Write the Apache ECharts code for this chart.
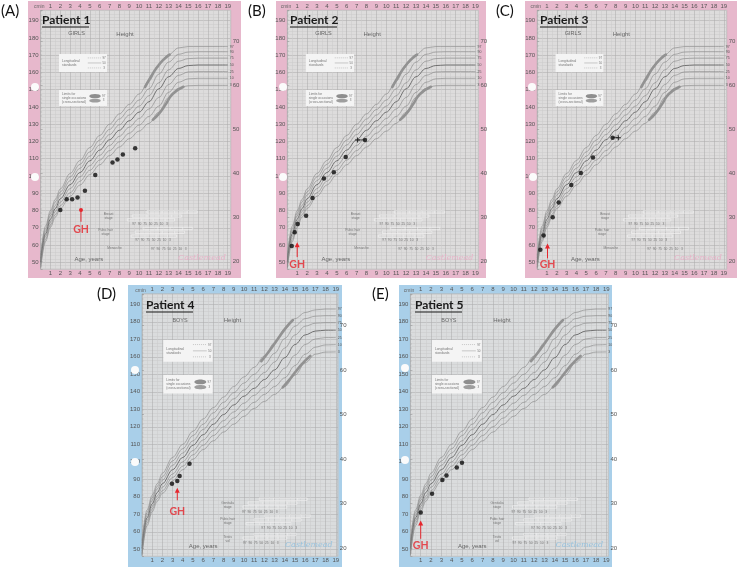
<!DOCTYPE html>
<html>
<head>
<meta charset="utf-8">
<script src="https://cdn.jsdelivr.net/npm/echarts@6/dist/echarts.min.js"></script>
<style>
html, body { margin: 0; padding: 0; background: #fff; }
#chart { width: 739px; height: 568px; }
</style>
</head>
<body>
<div id="chart"></div>
<script>
// reference curves (age in years, height in cm)
const refAges = [0, 0.5, 1, 1.5, 2, 3, 4, 5, 6, 7, 8, 9, 10, 11, 12, 13, 14, 15, 16, 17, 18, 19];

const girls97 = [54, 71, 80, 86.5, 92.5, 101.5, 109, 116.5, 123.5, 130, 136, 141.5, 147.5, 155, 164.5, 170.3, 174.2, 175, 175, 175, 175, 175];
const girls90 = [52.5, 69.5, 78.5, 85, 90.8, 99.5, 106.8, 114, 120.8, 127, 133, 138.5, 144, 150.5, 159, 166, 170.5, 171.8, 172, 172, 172, 172];
const girls75 = [51.3, 68, 77, 83, 89, 97.3, 104.5, 111.5, 118, 124, 129.7, 135.3, 140.5, 146.5, 154, 161.5, 166.5, 168, 168.3, 168.3, 168.3, 168.3];
const girls50 = [50, 66.5, 75, 81.2, 86.8, 95, 102, 108.8, 115, 121, 126.5, 132, 137, 143, 150.5, 157.5, 162.3, 164, 164.3, 164.3, 164.3, 164.3];
const girls25 = [48.7, 65, 73.3, 79.5, 84.8, 92.7, 99.5, 106, 112, 117.7, 123, 128.3, 133.3, 138.8, 145.5, 153, 158.3, 160.3, 160.5, 160.5, 160.5, 160.5];
const girls10 = [47.5, 63.3, 71.7, 77.7, 82.8, 90.3, 97, 103.3, 109.2, 114.7, 119.8, 124.8, 129.5, 134.5, 140.5, 148.5, 154.3, 156.3, 156.6, 156.6, 156.6, 156.6];
const girls3 = [46.5, 62, 70.3, 76.2, 81.2, 88.3, 94.8, 100.8, 106.5, 111.8, 116.8, 121.6, 126, 130.5, 137, 145.5, 150.8, 152.3, 152.5, 152.5, 152.5, 152.5];

const boys97 = [55, 72.5, 81, 87.5, 93.5, 102.5, 110, 117.5, 124.5, 131, 137, 143, 148.5, 154, 160.5, 168, 176, 181.8, 185.3, 186.8, 187.3, 187.3];
const boys90 = [53.5, 71, 79.5, 86, 91.5, 100.5, 107.5, 115, 121.5, 128, 134, 139.5, 145, 150, 155.5, 162, 170.5, 177.5, 181.8, 183.2, 183.5, 183.5];
const boys75 = [52, 69.5, 78, 84.5, 89.5, 98, 105, 112, 118.5, 124.5, 130.5, 136, 141, 146, 151, 157, 165, 172.5, 177.5, 179.2, 179.5, 179.5];
const boys50 = [50.5, 68, 76, 82.5, 87.5, 95.5, 102.5, 109.5, 115.5, 121.5, 127, 132.5, 137.5, 142, 147, 152.5, 159.5, 167, 172.5, 174.7, 175.2, 175.2];
const boys25 = [49, 66.5, 74.5, 80.5, 85.5, 93, 100, 106.5, 112.5, 118, 123.5, 128.5, 133.5, 138, 142.5, 147.5, 153.5, 161, 167, 170.2, 171, 171];
const boys10 = [47.5, 65, 73, 79, 83.5, 91, 97.5, 104, 109.5, 115, 120, 125, 129.5, 134, 138.5, 143, 148, 155, 161.5, 165.5, 166.8, 167];
const boys3 = [46.5, 63.5, 71.5, 77.5, 82, 89, 95.5, 101.5, 107, 112, 117, 121.5, 126, 130.5, 134.5, 138.5, 143, 149.5, 156.5, 161.5, 162.7, 162.8];

// shaded "single occasion" limits
const girlsBandHiAges = [10.6, 11.2, 11.8, 12.4, 13.1];
const girlsBandHi = [151.5, 157.5, 162.8, 167, 170.3];
const girlsBandLoAges = [11.4, 12, 12.7, 13.4, 14.5];
const girlsBandLo = [132.6, 136, 141.5, 147.5, 151.7];
const boysBandHiAges = [11.7, 12.5, 13.3, 14.1, 14.8];
const boysBandHi = [157.5, 163.5, 170, 176.5, 181];
const boysBandLoAges = [13.8, 14.4, 15, 15.7, 16.5];
const boysBandLo = [142.5, 146.5, 151, 156, 160.5];

// patients
const p1Ages = [2.0, 2.65, 3.2, 3.75, 4.5, 5.55, 7.3, 7.8, 8.35, 9.6];
const p1Heights = [80.3, 86.5, 86.5, 87.5, 91.4, 100.6, 107.8, 109.6, 112.5, 116.1];
const p2Ages = [0.45, 0.75, 1.05, 1.9, 2.55, 3.7, 4.7, 5.9, 7.85];
const p2Heights = [59.5, 67.4, 72.2, 76.9, 87.3, 98.5, 102.2, 111, 120.9];
const p3Ages = [0.32, 0.66, 1.58, 2.19, 3.47, 4.44, 5.68, 7.68];
const p3Heights = [57.2, 65.5, 76.1, 84.6, 94.8, 101.8, 110.7, 122.2];
const p4Ages = [2.94, 3.46, 3.69, 4.66];
const p4Heights = [87.5, 89.0, 91.9, 98.9];
const p5Ages = [1.0, 2.1, 3.1, 3.5, 4.5, 5.0];
const p5Heights = [71, 81.8, 89.6, 92.2, 96.7, 99.4];

// cross (+) marks joined to the last dot (patients 2 and 3 only)
const crossAges = [null, 7.1, 8.26, null, null];
const crossHeights = [null, 120.9, 122.2, null, null];

// GH start arrows
const ghAges = [4.1, 1.0, 1.05, 3.46, 1.0];
const ghTip = [80.3, 60.1, 59.5, 83.7, 65];
const ghBase = [73.5, 53, 52.3, 78, 56];
const ghTextAt = [69.2, 48.4, 48.4, 71.8, 52];

const girlsCurves = [girls97, girls90, girls75, girls50, girls25, girls10, girls3];
const boysCurves = [boys97, boys90, boys75, boys50, boys25, boys10, boys3];
const pctLabels = ['97', '90', '75', '50', '25', '10', '3'];
const patientAges = [p1Ages, p2Ages, p3Ages, p4Ages, p5Ages];
const patientHeights = [p1Heights, p2Heights, p3Heights, p4Heights, p5Heights];

const panels = [
    { tag: '(A)', title: 'Patient 1', sex: 'girls', card: [28, 1, 213, 277], tagAt: [1, 11], titleAt: [42, 20],
      grid: { left: 40.6, top: 10.3, width: 190.1, height: 258.9 }, xMax: 19.3, holes: [[35, 87], [35, 177]], ghSym: 'circle' },
    { tag: '(B)', title: 'Patient 2', sex: 'girls', card: [276, 1, 210, 277], tagAt: [248, 11], titleAt: [290, 20],
      grid: { left: 287.3, top: 10.3, width: 191.1, height: 258.9 }, xMax: 19.3, holes: [[283, 87], [283, 177]], ghSym: 'triangle' },
    { tag: '(C)', title: 'Patient 3', sex: 'girls', card: [525, 1, 212, 277], tagAt: [496, 11], titleAt: [540, 20],
      grid: { left: 537.2, top: 10.3, width: 189.5, height: 258.9 }, xMax: 19.3, holes: [[532, 87], [533, 177]], ghSym: 'triangle' },
    { tag: '(D)', title: 'Patient 4', sex: 'boys', card: [128, 285, 214, 282], tagAt: [97, 294], titleAt: [146, 305],
      grid: { left: 142, top: 293.8, width: 195.8, height: 262.5 }, xMax: 19.2, holes: [[135, 370], [135, 462]], ghSym: 'triangle' },
    { tag: '(E)', title: 'Patient 5', sex: 'boys', card: [399, 285, 213, 282], tagAt: [372, 294], titleAt: [415, 305],
      grid: { left: 410.4, top: 293.8, width: 198, height: 262.5 }, xMax: 19.2, holes: [[405, 368], [405, 460]], ghSym: 'triangle' }
];

const FONT = 'Liberation Sans, Arial, sans-serif';
const isInt = v => Math.abs(v - Math.round(v)) < 1e-6;
const ageLabel = v => (isInt(v) && v >= 1 && v <= 19) ? String(Math.round(v)) : '';
const MAJOR = '#adadad', MINOR = '#cbcbcb';

const option = {
    animation: false,
    backgroundColor: '#ffffff',
    grid: [], xAxis: [], yAxis: [], series: []
};

panels.forEach((p, i) => {
    const girls = p.sex === 'girls';
    option.grid.push(Object.assign({
        show: true,
        backgroundColor: girls ? '#dddcdc' : '#dadcdd',
        borderColor: '#a8a8a8',
        borderWidth: 0.6,
        outerBoundsMode: 'none'
    }, p.grid));

    const xBase = {
        gridIndex: i, type: 'value', min: 0, max: p.xMax, interval: 0.5,
        axisLine: { show: false }, axisTick: { show: false }
    };
    option.xAxis.push(Object.assign({}, xBase, {
        position: 'bottom',
        axisLabel: { fontSize: 6, color: '#555', margin: 1, fontFamily: FONT, formatter: ageLabel },
        splitLine: { show: true, lineStyle: { color: [MAJOR, MINOR], width: 0.55 } }
    }));
    option.xAxis.push(Object.assign({}, xBase, {
        position: 'top',
        axisLabel: { fontSize: 6, color: '#555', margin: 1, fontFamily: FONT, formatter: ageLabel },
        splitLine: { show: false }
    }));

    option.yAxis.push({
        gridIndex: i, type: 'value', min: 46, max: 196, interval: 2, position: 'left',
        name: 'cm', nameLocation: 'end', nameGap: 1,
        nameTextStyle: { fontSize: 5, color: '#666', fontFamily: FONT, align: 'right' },
        axisLine: { show: false }, axisTick: { show: false },
        axisLabel: {
            fontSize: 6, color: '#555', margin: 2, fontFamily: FONT,
            formatter: v => (v % 10 === 0 && v >= 50 && v <= 190) ? String(v) : ''
        },
        splitLine: { show: true, lineStyle: { color: [MINOR, MINOR, MAJOR, MINOR, MINOR], width: 0.55 } }
    });
    option.yAxis.push({
        gridIndex: i, type: 'value', min: 46 / 2.54, max: 196 / 2.54, position: 'right',
        name: 'in', nameLocation: 'end', nameGap: 1,
        nameTextStyle: { fontSize: 5, color: '#666', fontFamily: FONT, align: 'left' },
        axisLine: { show: false },
        axisTick: { show: true, length: 2, lineStyle: { color: '#888', width: 0.5 } },
        minorTick: { show: true, splitNumber: 10, length: 1.5, lineStyle: { color: '#999', width: 0.4 } },
        axisLabel: {
            fontSize: 6, color: '#555', margin: 2, fontFamily: FONT,
            formatter: v => (isInt(v) && Math.round(v) % 10 === 0) ? String(Math.round(v)) : ''
        },
        splitLine: { show: false }
    });

    const ax = { xAxisIndex: 2 * i, yAxisIndex: 2 * i };
    const curves = girls ? girlsCurves : boysCurves;
    curves.forEach((c, k) => {
        option.series.push(Object.assign({
            type: 'line', name: 'P' + pctLabels[k], smooth: 0.35, smoothMonotone: 'x',
            symbol: 'none', silent: true,
            lineStyle: { color: k === 3 ? '#6a6a6a' : '#858585', width: k === 3 ? 0.95 : 0.6 },
            data: refAges.map((a, j) => [a, c[j]]),
            endLabel: { show: true, formatter: pctLabels[k], fontSize: 3.5, color: '#555', distance: 2, fontFamily: FONT },
            z: 2
        }, ax));
    });
    const bands = girls
        ? [[girlsBandHiAges, girlsBandHi], [girlsBandLoAges, girlsBandLo]]
        : [[boysBandHiAges, boysBandHi], [boysBandLoAges, boysBandLo]];
    bands.forEach(b => {
        option.series.push(Object.assign({
            type: 'line', smooth: true, symbol: 'none', silent: true,
            lineStyle: { color: '#929292', width: 2.6, cap: 'round' },
            data: b[0].map((a, j) => [a, b[1][j]]), z: 2
        }, ax));
    });

    option.series.push(Object.assign({
        type: 'scatter', symbol: 'circle', symbolSize: 4.5,
        itemStyle: { color: '#0d0d0d' },
        data: patientAges[i].map((a, j) => [a, patientHeights[i][j]]), z: 5
    }, ax));

    if (crossAges[i] !== null) {
        const last = patientAges[i].length - 1;
        option.series.push(Object.assign({
            type: 'line', symbol: 'none',
            lineStyle: { color: '#222', width: 0.8 },
            data: [
                { value: [crossAges[i], crossHeights[i]], symbol: 'path://M4,0H6V4H10V6H6V10H4V6H0V4H4Z', symbolSize: 5, itemStyle: { color: '#222' } },
                [patientAges[i][last], patientHeights[i][last]]
            ], z: 4
        }, ax));
    }

    option.series.push(Object.assign({
        type: 'line', symbol: 'none',
        lineStyle: { color: '#e5262d', width: 1 },
        itemStyle: { color: '#e5262d' },
        data: [
            { value: [ghAges[i], ghTip[i]], symbol: p.ghSym, symbolSize: p.ghSym === 'circle' ? 4 : [5, 5] },
            { value: [ghAges[i], ghBase[i]], symbol: 'none' }
        ], z: 6
    }, ax));
    option.series.push(Object.assign({
        type: 'scatter', symbolSize: 1, itemStyle: { color: 'rgba(0,0,0,0)' },
        label: { show: true, position: 'inside', formatter: 'GH', color: '#e5262d', fontSize: 10.5, fontWeight: 'bold', fontFamily: 'Lato, ' + FONT },
        data: [[ghAges[i], ghTextAt[i]]], z: 6
    }, ax));
});

const chart = echarts.init(document.getElementById('chart'));
chart.setOption(option);

// printed chart furniture, placed in chart coordinates
const deco = {
    girls: {
        sex: 'GIRLS', sexAt: [3.65, 182.3], heightAt: [8.57, 182.3],
        box1: [1.87, 170.7, 6.74, 160.3], box2: [1.87, 149.8, 6.74, 140.5],
        ageAt: [4.9, 51.9], brandAt: [18.8, 52.8], brandColor: '#e6b3c8',
        labels: [['Breast\nstage', 6.9, 77], ['Pubic hair\nstage', 6.6, 67.5], ['Menarche', 7.5, 58]],
        rows: [[10.8, 15.9, 79.2], [9.3, 14.3, 76.8], [8.8, 13.6, 74.6], [10.4, 15.4, 69.6], [9.6, 14.6, 67.4], [9.2, 13.8, 65.2]],
        nums: [[9.3, 72.4], [9.6, 62.8], [11.2, 57.5]]
    },
    boys: {
        sex: 'BOYS', sexAt: [3.73, 181], heightAt: [8.87, 181],
        box1: [2.09, 169.6, 6.93, 157.2], box2: [2.09, 149.6, 6.93, 139.1],
        ageAt: [6.0, 51.5], brandAt: [18.7, 52.3], brandColor: '#98c3de',
        labels: [['Genitalia\nstage', 8.4, 75], ['Pubic hair\nstage', 8.4, 66], ['Testis\nvol', 8.4, 55.6]],
        rows: [[11.5, 16.2, 78.6], [10.4, 15.2, 76.4], [9.9, 14.2, 74.2], [12, 16.5, 69], [11, 15.6, 66.8], [10.2, 14.6, 64.6], [11, 15.1, 58.5], [9.9, 14.2, 56.4]],
        nums: [[9.8, 71.5], [11.7, 62.2], [9.9, 53.8]]
    }
};

function txt(x, y, text, size, color) {
    return { type: 'text', z: 8,
        style: { text: text, x: x, y: y, fill: color, fontSize: size, fontFamily: FONT, align: 'center', verticalAlign: 'middle' } };
}

const graphics = [];
panels.forEach((p, i) => {
    const girls = p.sex === 'girls';
    const d = deco[p.sex];
    const P = (a, c) => chart.convertToPixel({ xAxisIndex: 2 * i, yAxisIndex: 2 * i }, [a, c]);

    graphics.push({ type: 'rect', z: -10, shape: { x: p.card[0], y: p.card[1], width: p.card[2], height: p.card[3] },
        style: { fill: girls ? '#e7b8cc' : '#a9cfe9' } });
    p.holes.forEach(h => graphics.push({ type: 'circle', z: 9, shape: { cx: h[0], cy: h[1], r: 4 }, style: { fill: '#fbfbfb' } }));

    graphics.push({ type: 'text', z: 9, style: { text: p.tag, x: p.tagAt[0], y: p.tagAt[1], fill: '#111', fontSize: 15, fontFamily: 'Lato, ' + FONT, verticalAlign: 'middle' } });
    graphics.push({ type: 'text', z: 9, style: { text: p.title, x: p.titleAt[0], y: p.titleAt[1], fill: '#1a1a1a', fontSize: 12, fontWeight: 'bold', fontFamily: 'Lato, ' + FONT, verticalAlign: 'middle' } });
    graphics.push({ type: 'line', z: 9, shape: { x1: p.titleAt[0], y1: p.titleAt[1] + 7, x2: p.titleAt[0] + 47, y2: p.titleAt[1] + 7 }, style: { stroke: '#1a1a1a', lineWidth: 1 } });

    let q = P(d.sexAt[0], d.sexAt[1]);
    graphics.push(txt(q[0], q[1], d.sex, 5.5, '#666'));
    q = P(d.heightAt[0], d.heightAt[1]);
    graphics.push(txt(q[0], q[1], 'Height', 6, '#666'));
    q = P(d.ageAt[0], d.ageAt[1]);
    graphics.push(txt(q[0], q[1], 'Age, years', 6, '#666'));
    q = P(d.brandAt[0], d.brandAt[1]);
    graphics.push({ type: 'text', z: 8, style: { text: 'Castlemead', x: q[0], y: q[1], fill: d.brandColor, fontSize: 8, fontStyle: 'italic', fontFamily: 'DejaVu Serif, serif', align: 'right', verticalAlign: 'middle' } });

    [d.box1, d.box2].forEach((b, k) => {
        const a = P(b[0], b[1]), c = P(b[2], b[3]);
        const w = c[0] - a[0], h = c[1] - a[1];
        graphics.push({ type: 'rect', z: 7, shape: { x: a[0], y: a[1], width: w, height: h }, style: { fill: '#f4f4f4' } });
        graphics.push({ type: 'text', z: 8, style: {
            text: k === 0 ? 'Longitudinal\nstandards' : 'Limits for\nsingle occasions\n(cross-sectional)',
            x: a[0] + 3, y: a[1] + h / 2, fill: '#777', fontSize: 3.3, lineHeight: 4, fontFamily: FONT, verticalAlign: 'middle' } });
        if (k === 0) {
            [0.22, 0.5, 0.78].forEach((f, m) => {
                const yy = a[1] + h * f;
                graphics.push({ type: 'line', z: 8, shape: { x1: a[0] + w * 0.6, y1: yy, x2: a[0] + w * 0.88, y2: yy },
                    style: { stroke: '#9a9a9a', lineWidth: 0.5, lineDash: m === 1 ? null : [1, 1] } });
                graphics.push(txt(a[0] + w * 0.94, yy, ['97', '50', '3'][m], 3, '#777'));
            });
        } else {
            graphics.push({ type: 'ellipse', z: 8, shape: { cx: a[0] + w * 0.75, cy: a[1] + h * 0.38, rx: w * 0.12, ry: h * 0.13 }, style: { fill: '#8e8e8e' } });
            graphics.push({ type: 'ellipse', z: 8, shape: { cx: a[0] + w * 0.75, cy: a[1] + h * 0.66, rx: w * 0.12, ry: h * 0.11 }, style: { fill: '#9e9e9e' } });
            graphics.push(txt(a[0] + w * 0.93, a[1] + h * 0.38, '97', 3, '#777'));
            graphics.push(txt(a[0] + w * 0.93, a[1] + h * 0.66, '3', 3, '#777'));
        }
    });

    d.labels.forEach(l => {
        const r = P(l[1], l[2]);
        graphics.push({ type: 'text', z: 8, style: { text: l[0], x: r[0], y: r[1], fill: '#777', fontSize: 3.3, lineHeight: 4, fontFamily: FONT, align: 'center', verticalAlign: 'middle' } });
    });
    d.rows.forEach(r => {
        const a = P(r[0], r[2] + 0.7), c = P(r[1], r[2] - 0.7);
        const w = c[0] - a[0];
        graphics.push({ type: 'rect', z: 7, shape: { x: a[0], y: a[1], width: w, height: c[1] - a[1] }, style: { fill: 'none', stroke: '#f3f3f3', lineWidth: 0.6 } });
        [0.3, 0.55, 0.8].forEach(f => graphics.push({ type: 'line', z: 7,
            shape: { x1: a[0] + w * f, y1: a[1], x2: a[0] + w * f, y2: c[1] }, style: { stroke: '#f3f3f3', lineWidth: 0.5 } }));
    });
    d.nums.forEach(n => {
        const r = P(n[0], n[1]);
        graphics.push({ type: 'text', z: 8, style: { text: '97  90  75  50  25  10   3', x: r[0], y: r[1], fill: '#777', fontSize: 3.3, fontFamily: FONT, verticalAlign: 'middle' } });
    });
});

chart.setOption({ graphic: graphics });
</script>
</body>
</html>
